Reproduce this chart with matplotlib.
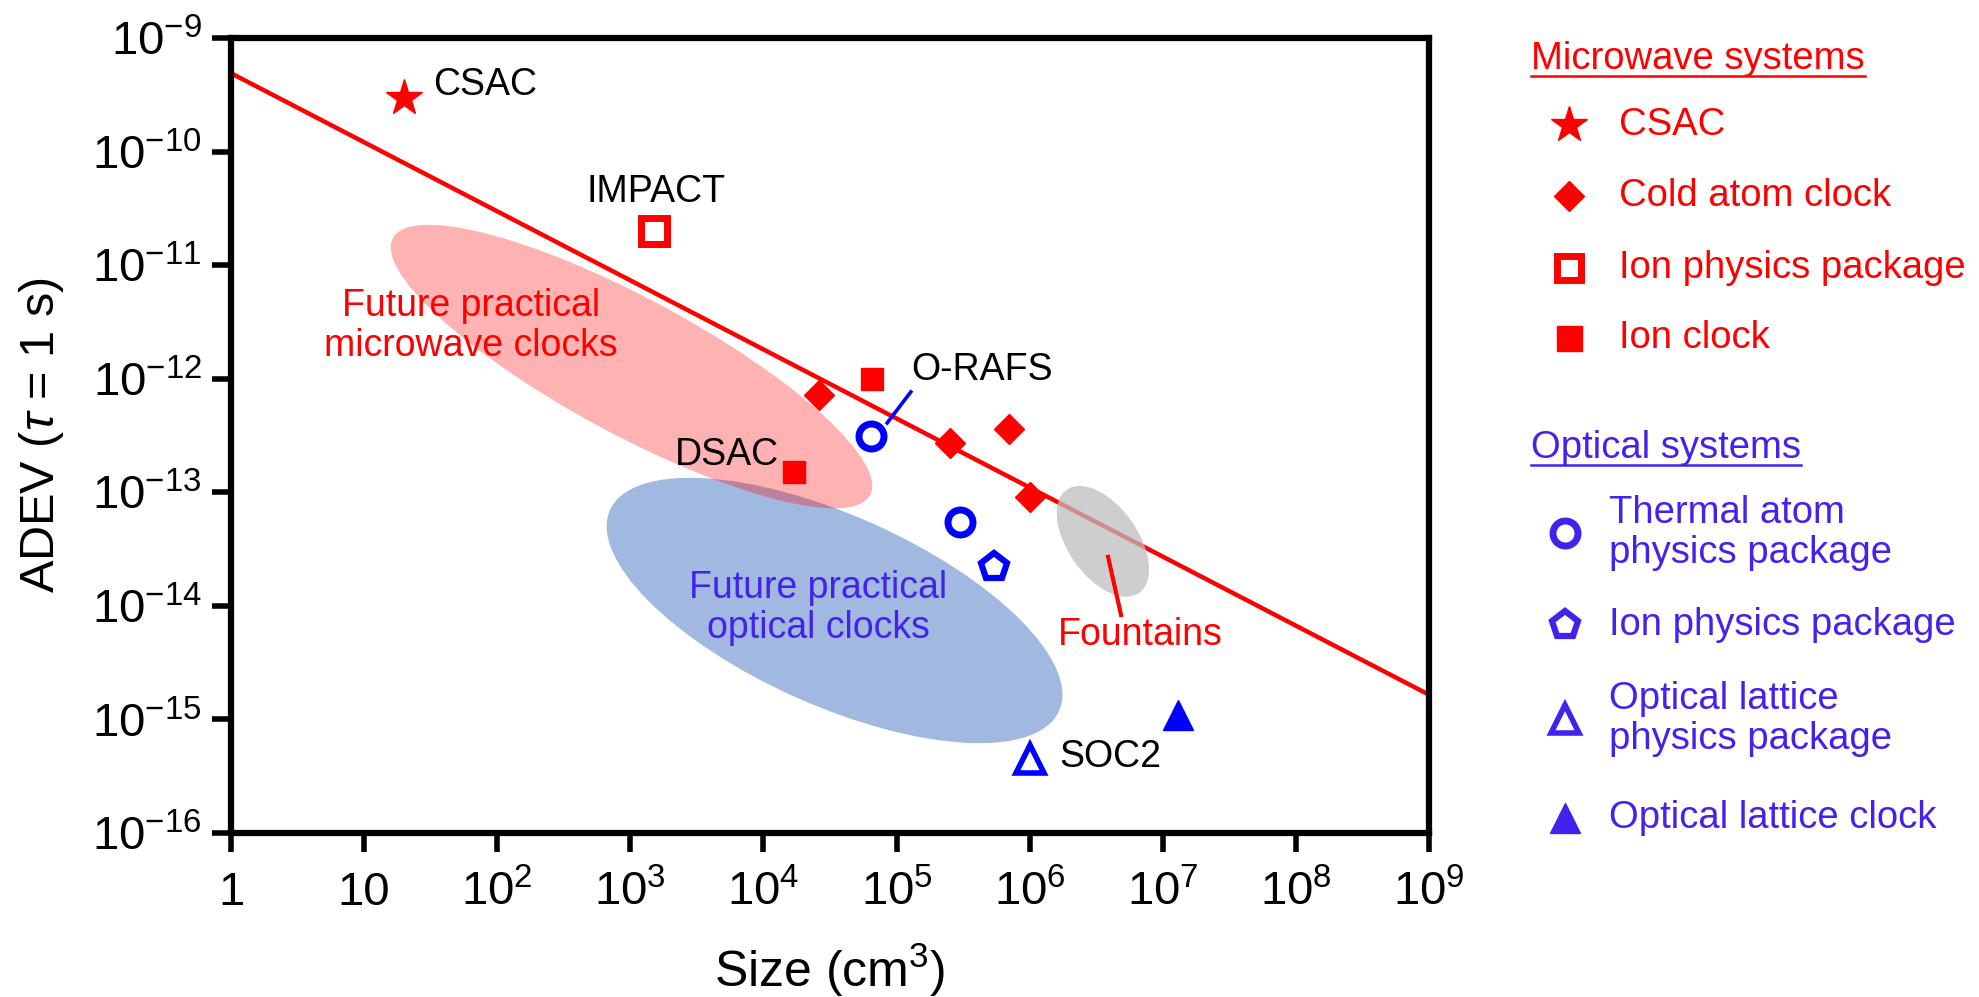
import numpy as np
import matplotlib
matplotlib.use('Agg')
import matplotlib.pyplot as plt
from matplotlib.patches import Ellipse
from matplotlib.transforms import ScaledTranslation

plt.rcParams['font.family'] = ['Liberation Sans', 'DejaVu Sans']
plt.rcParams['mathtext.fontset'] = 'custom'
plt.rcParams['mathtext.rm'] = 'Liberation Sans'
plt.rcParams['mathtext.it'] = 'Liberation Sans:italic'
plt.rcParams['mathtext.bf'] = 'Liberation Sans:bold'

# ---------------- data ----------------
csac_x = [20]
csac_y = [2.97e-10]
cold_x = [2.6e4, 2.5e5, 7.0e5, 1.0e6]
cold_y = [7.2e-13, 2.7e-13, 3.6e-13, 9.0e-14]
ionpkg_x = [1.5e3]
ionpkg_y = [2.0e-11]
ionclock_x = [6.5e4, 1.7e4]
ionclock_y = [1.0e-12, 1.5e-13]
thermal_x = [6.4e4, 3.0e5]
thermal_y = [3.1e-13, 5.5e-14]
option_x = [5.4e5]
option_y = [2.2e-14]
latpkg_x = [1.0e6]
latpkg_y = [4.5e-16]
latclock_x = [1.3e7]
latclock_y = [1.1e-15]
trend_x = [1, 1e9]
trend_y = [4.9e-10, 1.65e-15]

xticks = [1, 10, 1e2, 1e3, 1e4, 1e5, 1e6, 1e7, 1e8, 1e9]
xticklabels = ['1', '10', '$10^{2}$', '$10^{3}$', '$10^{4}$', '$10^{5}$',
               '$10^{6}$', '$10^{7}$', '$10^{8}$', '$10^{9}$']
yticks = [1e-9, 1e-10, 1e-11, 1e-12, 1e-13, 1e-14, 1e-15, 1e-16]
yticklabels = ['$10^{-9}$', '$10^{-10}$', '$10^{-11}$', '$10^{-12}$',
               '$10^{-13}$', '$10^{-14}$', '$10^{-15}$', '$10^{-16}$']

mw_header = 'Microwave systems'
mw_labels = ['CSAC', 'Cold atom clock', 'Ion physics package', 'Ion clock']
opt_header = 'Optical systems'
opt_labels = ['Thermal atom\nphysics package', 'Ion physics package',
              'Optical lattice\nphysics package', 'Optical lattice clock']

RED = '#FF0000'
BLUE = '#0000FF'
VIOLET = '#4422EE'

W, H, DPI = 1979, 997, 100
fig = plt.figure(figsize=(W / DPI, H / DPI), dpi=DPI)

# main axes (pixel box 231..1429 x 38..833)
L, R, T, B = 231, 1429, 38, 833
ax = fig.add_axes([L / W, 1 - B / H, (R - L) / W, (B - T) / H])
ax.set_xscale('log')
ax.set_yscale('log')
ax.set_xlim(1, 1e9)
ax.set_ylim(1e-16, 1e-9)


def add_ellipse(cx, cy, a_px, b_px, angle, **kw):
    tr = fig.dpi_scale_trans + ScaledTranslation(cx, cy, ax.transData)
    e = Ellipse((0, 0), 2 * a_px / DPI, 2 * b_px / DPI, angle=angle,
                transform=tr, **kw)
    ax.add_patch(e)


# regions
add_ellipse(3.42e4, 9.1e-15, 246, 95, -24.1, facecolor='#4472C4', alpha=0.5,
            edgecolor='none', zorder=1)
ax.plot(trend_x, trend_y, color=RED, lw=3.2, zorder=2)
add_ellipse(1.02e3, 1.28e-12, 271, 68, -28.3, facecolor=RED, alpha=0.3,
            edgecolor='none', zorder=3)
add_ellipse(3.55e6, 3.7e-14, 63, 35, -55, facecolor='#BEBEBE', alpha=0.75,
            edgecolor='none', zorder=4)

# markers
ax.plot(csac_x, csac_y, ls='none', marker='*', ms=27, color=RED, mec=RED, zorder=5)
ax.plot(cold_x, cold_y, ls='none', marker='D', ms=15, color=RED, mec=RED, zorder=5)
ax.plot(ionpkg_x, ionpkg_y, ls='none', marker='s', ms=19, mfc='white', mec=RED,
        mew=5, zorder=5)
ax.plot(ionclock_x, ionclock_y, ls='none', marker='s', ms=16, color=RED, mec=RED,
        zorder=5)
ax.plot(thermal_x, thermal_y, ls='none', marker='o', ms=18, mfc='white', mec=BLUE,
        mew=5, zorder=5)
ax.plot(option_x, option_y, ls='none', marker='p', ms=20, mfc='white', mec=BLUE,
        mew=4.5, zorder=5)
ax.plot(latpkg_x, latpkg_y, ls='none', marker='^', ms=20, mfc='white', mec=BLUE,
        mew=4, zorder=5)
ax.plot(latclock_x, latclock_y, ls='none', marker='^', ms=21, color=BLUE, mec=BLUE,
        zorder=5)

# annotations
FS_ANN = 27
ax.text(33, 3.86e-10, 'CSAC', fontsize=FS_ANN, ha='left', va='center', zorder=6)
ax.text(1.56e3, 4.4e-11, 'IMPACT', fontsize=FS_ANN, ha='center', va='center', zorder=6)
ax.text(63.6, 2.92e-12, 'Future practical\nmicrowave clocks', fontsize=FS_ANN,
        color=RED, ha='center', va='center', multialignment='center',
        linespacing=1.15, zorder=6)
ax.text(2.57e4, 9.6e-15, 'Future practical\noptical clocks', fontsize=FS_ANN,
        color=VIOLET, ha='center', va='center', multialignment='center',
        linespacing=1.15, zorder=6)
ax.text(1.28e5, 1.19e-12, 'O-RAFS', fontsize=FS_ANN, ha='left', va='center', zorder=6)
ax.plot([1.28e5, 8.5e4], [7.65e-13, 4.08e-13], color=BLUE, lw=2.6, zorder=6)
ax.text(1.31e4, 2.13e-13, 'DSAC', fontsize=FS_ANN, ha='right', va='center', zorder=6)
ax.text(1.66e6, 4.68e-16, 'SOC2', fontsize=FS_ANN, ha='left', va='center', zorder=6)
ax.text(6.75e6, 5.56e-15, 'Fountains', fontsize=FS_ANN, color=RED, ha='center',
        va='center', zorder=6)
ax.plot([3.88e6, 4.86e6], [2.7e-14, 8.3e-15], color=RED, lw=3.0, zorder=6)

# axes styling
for sp in ax.spines.values():
    sp.set_linewidth(4.5)
ax.minorticks_off()
ax.set_xticks(xticks)
ax.set_xticklabels(xticklabels)
ax.set_yticks(yticks)
ax.set_yticklabels(yticklabels)
ax.tick_params(axis='both', which='major', direction='out', length=14, width=4,
               labelsize=34)
ax.tick_params(axis='x', pad=38)
ax.tick_params(axis='y', pad=7)
for lab in ax.get_xticklabels():
    lab.set_va('baseline')

fig.text((L + R) / 2 / W, 10 / H, 'Size (cm$^{3}$)', fontsize=36, ha='center',
         va='baseline')
fig.text(42 / W, 1 - (T + B) / 2 / H, 'ADEV ($\\tau$ = 1 s)', fontsize=35,
         ha='center', va='center', rotation=90)

# legend (manual, in pixel coordinates)
lg = fig.add_axes([0, 0, 1, 1], zorder=-1)
lg.set_xlim(0, W)
lg.set_ylim(H, 0)
lg.axis('off')
FS_LEG = 27.5
h1 = lg.text(1531, 59, mw_header, fontsize=FS_LEG, color=RED, ha='left', va='center')
h2 = lg.text(1531, 448, opt_header, fontsize=FS_LEG, color=VIOLET, ha='left', va='center')

mw_y = [125, 196, 268, 338]
mw_styles = [dict(marker='*', ms=27, color=RED, mec=RED),
             dict(marker='D', ms=15, color=RED, mec=RED),
             dict(marker='s', ms=17, mfc='white', mec=RED, mew=5),
             dict(marker='s', ms=18, color=RED, mec=RED)]
for y, lab, st in zip(mw_y, mw_labels, mw_styles):
    lg.plot([1569], [y], ls='none', **st)
    lg.text(1619, y, lab, fontsize=FS_LEG, color=RED, ha='left', va='center')

opt_y = [533, 625, 719, 818]
opt_styles = [dict(marker='o', ms=18, mfc='white', mec=VIOLET, mew=5),
              dict(marker='p', ms=20, mfc='white', mec=VIOLET, mew=4.5),
              dict(marker='^', ms=20, mfc='white', mec=VIOLET, mew=4),
              dict(marker='^', ms=21, color=VIOLET, mec=VIOLET)]
for y, lab, st in zip(opt_y, opt_labels, opt_styles):
    lg.plot([1565], [y], ls='none', **st)
    lg.text(1609, y, lab, fontsize=FS_LEG, color=VIOLET, ha='left', va='center',
            linespacing=1.15)

fig.canvas.draw()
for t, c in [(h1, RED), (h2, VIOLET)]:
    bb = t.get_window_extent()
    yy = bb.y0 + 1
    fig.add_artist(plt.Line2D([bb.x0 / W, bb.x1 / W], [yy / H, yy / H],
                              transform=fig.transFigure, color=c, lw=1.8))

fig.savefig('out.png', dpi=DPI)
